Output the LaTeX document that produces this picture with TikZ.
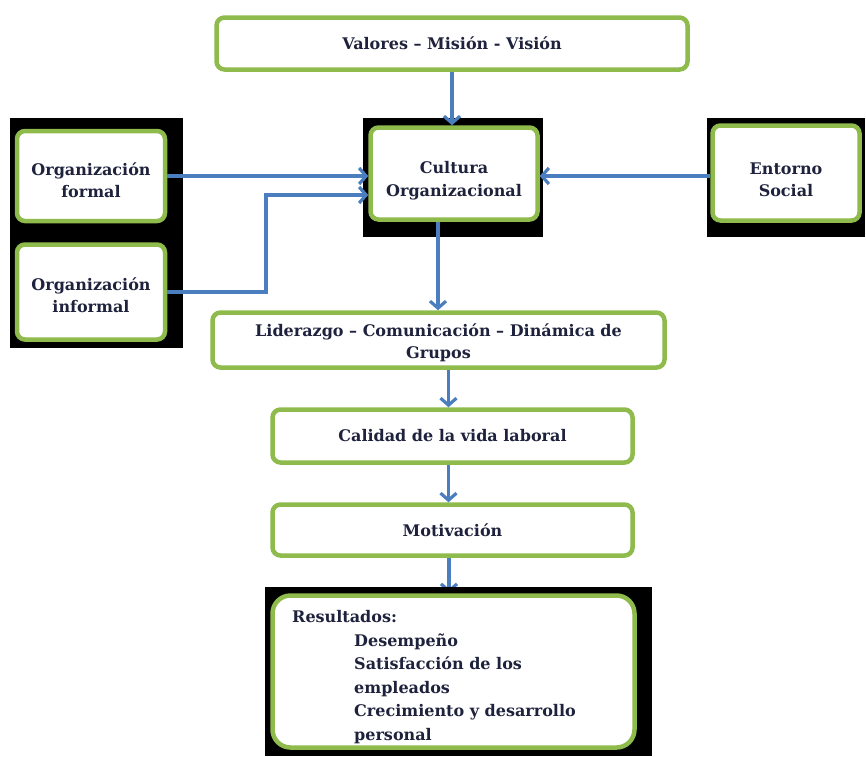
\documentclass[tikz,border=0pt]{standalone}
\usepackage{fontspec}
\setmainfont{DejaVu Serif}
\usetikzlibrary{arrows.meta}
\definecolor{boxgreen}{RGB}{143,187,76}
\definecolor{linkblue}{RGB}{74,126,190}
\definecolor{inkc}{RGB}{30,34,60}
% two-line box label, moved down inside its frame while keeping its size
\newcommand{\boxlines}[2]{\raisebox{-#1}[\height][\depth]{\begin{tabular}{@{}c@{}}#2\end{tabular}}}
\begin{document}
\begin{tikzpicture}[x=1pt,y=-1pt,
  greenbox/.style={draw=boxgreen, line width=4.5pt, fill=white, rounded corners=8pt,
    align=center, font=\fontsize{16}{22.5}\selectfont\bfseries, text=inkc, inner sep=0pt},
  blackbox/.style={fill=black, inner sep=0pt},
  listtext/.style={align=left, inner sep=0pt, text=inkc, font=\fontsize{16}{23.5}\selectfont\bfseries},
  conn/.style={draw=linkblue, line width=3.2pt, -{Straight Barb[length=7pt,width=16pt]}}]
\useasboundingbox (0,0) rectangle (866,756);

% dark backing panels
\node[blackbox, minimum width=173pt, minimum height=230pt] (leftbg) at (96.5,233) {};
\node[blackbox, minimum width=180pt, minimum height=119pt] (cultbg) at (453,177.5) {};
\node[blackbox, minimum width=158pt, minimum height=119pt] (entbg) at (786,177.5) {};

% boxes
\node[greenbox, minimum width=148pt, minimum height=90pt] (of1) at (91,176) {\boxlines{6pt}{Organización\\formal}};
\node[greenbox, minimum width=148pt, minimum height=95pt] (of2) at (91,292) {\boxlines{5pt}{Organización\\informal}};
\node[greenbox, minimum width=167pt, minimum height=92pt] (cult) at (454,173.5) {\boxlines{7pt}{Cultura\\Organizacional}};
\node[greenbox, minimum width=147pt, minimum height=95pt] (ent) at (786,173) {\boxlines{8pt}{Entorno\\Social}};
\node[greenbox, minimum width=471pt, minimum height=52pt] (val) at (452,43.5) {Valores – Misión - Visión};
\node[greenbox, minimum width=452pt, minimum height=55pt] (lid) at (438.5,340) {\boxlines{3pt}{Liderazgo – Comunicación – Dinámica de\\Grupos}};
\node[greenbox, minimum width=360pt, minimum height=53pt] (cal) at (452.5,436) {Calidad de la vida laboral};
\node[greenbox, minimum width=360pt, minimum height=51pt] (mot) at (452.5,530) {Motivación};

% connectors
\coordinate (bend) at (266,195);
\coordinate (restop) at (449,593);
\draw[conn] (val.south) -- (val.south |- cult.north);
\draw[conn] (of1.east) -- (of1.east -| cult.west);
\draw[conn] (of2.east) -| (bend) -- (bend -| cult.west);
\draw[conn] (ent.west |- of1.east) -- (of1.east -| cult.east);
\draw[conn] ([xshift=-16pt]cult.south) -- ([xshift=-16pt]cult.south |- lid.north);
\draw[conn] ([xshift=10pt]lid.south) -- ([xshift=10pt]lid.south |- cal.north);
\draw[conn] ([xshift=-4pt]cal.south) -- ([xshift=-4pt]cal.south |- mot.north);
\draw[conn] ([xshift=-3.5pt]mot.south) -- (restop);

% results panel
\node[blackbox, minimum width=387pt, minimum height=169pt] (resbg) at (458.5,671.5) {};
\node[greenbox, rounded corners=18pt, minimum width=362pt, minimum height=152pt] (res) at (453.5,671.5) {};
\node[listtext, anchor=west] (restext) at (292,677)
  {Resultados:\\
   \hspace*{62pt}Desempeño\\
   \hspace*{62pt}Satisfacción de los\\
   \hspace*{62pt}empleados\\
   \hspace*{62pt}Crecimiento y desarrollo\\
   \hspace*{62pt}personal};
\end{tikzpicture}
\end{document}
